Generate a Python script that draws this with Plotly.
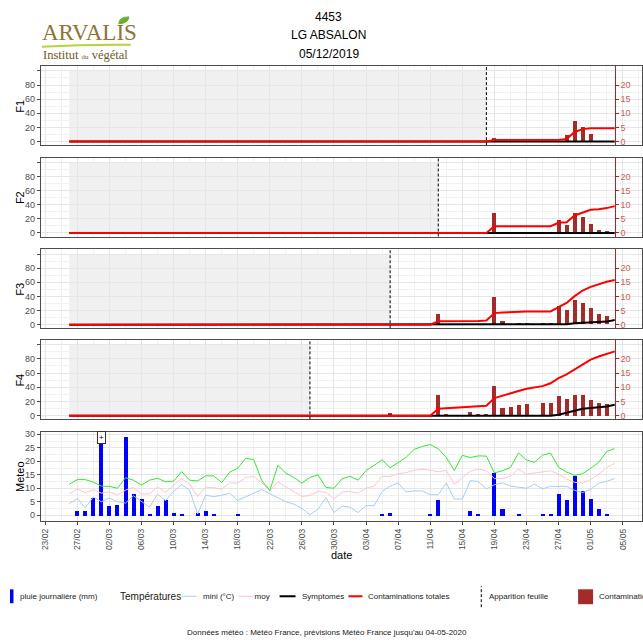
import pandas as pd
import plotly.graph_objects as go

W, H = 643, 641

# ---------------------------------------------------------------- data
dates = pd.date_range("2020-02-26", "2020-05-04", freq="D")

# daily rain (mm)
rain = ([0.0, 1.6, 1.6, 6.4] +
        [38.0, 3.4, 3.9, 29.0, 8.2, 6.0, 0.7, 3.7, 5.7, 1.0,
         0.7, 0.0, 1.0, 1.6, 0.7, 0.0, 0.0, 0.4, 0.0, 0.0,
         0.0, 0.0, 0.0, 0.0, 0.0, 0.0, 0.0, 0.0, 0.0, 0.0, 0.0] +
        [0.0, 0.0, 0.0, 0.0, 0.6, 1.0, 0.0, 0.0, 0.0, 0.0,
         0.4, 5.9, 0.0, 0.0, 0.0, 1.6, 0.4, 0.0, 15.8, 2.4,
         0.0, 0.4, 0.0, 0.0, 0.4, 0.4, 7.9, 5.7, 14.8, 9.2] +
        [6.0, 2.4, 0.7, 0.0])

# temperatures (deg C)
t_max = ([11.5, 13.2, 13.2, 12.3] +
         [10.8, 10.7, 10.0, 13.9, 13.0, 11.2, 13.0, 13.7, 12.4, 12.6,
          16.2, 13.0, 12.7, 14.6, 14.6, 12.1, 16.0, 17.4, 21.1, 20.6,
          12.8, 9.2, 18.5, 15.6, 14.0, 11.9, 14.0, 15.0, 10.3, 10.0, 13.5] +
         [14.4, 13.0, 16.6, 18.5, 20.5, 17.6, 19.5, 21.5, 24.4, 25.5,
          26.2, 24.6, 21.4, 16.6, 22.2, 21.4, 22.0, 21.9, 15.7, 16.5,
          17.7, 23.1, 20.5, 19.6, 22.3, 23.0, 17.8, 16.0, 14.8, 15.4] +
         [17.4, 19.6, 23.6, 24.7])
t_moy = ([7.9, 9.7, 8.3, 9.4] +
         [8.2, 8.7, 7.5, 9.3, 10.3, 7.9, 7.9, 10.5, 8.5, 10.9,
          13.6, 11.4, 7.0, 10.4, 10.2, 9.7, 12.0, 11.9, 14.0, 14.4,
          12.0, 9.0, 12.4, 10.5, 8.7, 7.0, 7.3, 8.8, 8.5, 6.0, 8.6] +
         [8.8, 8.2, 10.0, 10.8, 14.4, 14.4, 15.4, 15.8, 16.7, 17.0,
          16.7, 16.1, 16.6, 11.5, 14.0, 16.3, 17.1, 16.5, 13.6, 13.6,
          14.4, 17.1, 15.2, 15.6, 15.9, 16.5, 15.2, 13.4, 12.2, 11.9] +
         [13.2, 15.2, 17.7, 19.3])
t_min = ([4.3, 6.2, 2.7, 6.8] +
         [5.0, 6.4, 5.0, 4.5, 7.2, 5.0, 3.0, 7.8, 5.4, 8.8,
          11.4, 9.3, 0.5, 7.4, 6.9, 7.4, 8.2, 5.5, 6.9, 8.3,
          9.5, 8.0, 6.5, 5.0, 4.1, 2.5, 0.2, 2.2, 6.5, 1.0, 3.4] +
         [3.0, 1.0, 3.6, 3.5, 8.8, 10.8, 12.0, 8.6, 9.0, 9.0,
          7.6, 7.6, 12.0, 6.0, 6.0, 12.8, 12.5, 9.8, 11.3, 12.0,
          10.8, 10.4, 10.0, 11.5, 9.8, 10.7, 10.7, 10.7, 9.2, 8.4] +
         [9.6, 11.9, 12.6, 13.6])

MARCH_ZERO = [0.0, 0.0, 0.0, 0.0, 0.0, 0.0, 0.0, 0.0, 0.0, 0.0,
              0.0, 0.0, 0.0, 0.0, 0.0, 0.0, 0.0, 0.0, 0.0, 0.0,
              0.0, 0.0, 0.0, 0.0, 0.0, 0.0, 0.0, 0.0, 0.0, 0.0, 0.0]
FEB_ZERO = [0.0, 0.0, 0.0, 0.0]

leaves = ["F1", "F2", "F3", "F4"]
leaf_appearance = ["2020-04-18", "2020-04-12", "2020-04-06", "2020-03-27"]

# cumulated contaminations (right-hand scale)
contam_tot = {
    "F1": FEB_ZERO + MARCH_ZERO +
          [0.0, 0.0, 0.0, 0.0, 0.0, 0.0, 0.0, 0.0, 0.0, 0.0,
           0.0, 0.0, 0.0, 0.0, 0.0, 0.0, 0.0, 0.0, 0.6, 0.6,
           0.6, 0.6, 0.6, 0.6, 0.6, 0.6, 0.6, 0.9, 3.4, 4.4] +
          [4.7, 4.7, 4.7, 4.7],
    "F2": FEB_ZERO + MARCH_ZERO +
          [0.0, 0.0, 0.0, 0.0, 0.0, 0.0, 0.0, 0.0, 0.0, 0.0,
           0.0, 0.0, 0.0, 0.0, 0.0, 0.0, 0.0, 0.0, 2.4, 2.4,
           2.4, 2.4, 2.4, 2.4, 2.4, 2.4, 3.6, 3.8, 6.2, 7.1] +
          [8.2, 8.4, 8.8, 9.5],
    "F3": FEB_ZERO + MARCH_ZERO +
          [0.0, 0.0, 0.0, 0.0, 0.0, 0.0, 0.0, 0.0, 0.0, 0.0,
           0.0, 1.2, 1.2, 1.2, 1.2, 1.3, 1.3, 1.5, 4.1, 4.3,
           4.5, 4.7, 4.7, 4.7, 4.7, 4.7, 6.2, 7.7, 10.1, 12.1] +
          [13.4, 14.4, 15.2, 15.8],
    "F4": FEB_ZERO + MARCH_ZERO +
          [0.0, 0.0, 0.0, 0.0, 0.0, 0.0, 0.0, 0.0, 0.0, 0.0,
           0.0, 2.5, 2.7, 2.9, 3.0, 3.2, 3.3, 3.5, 6.2, 7.1,
           7.9, 8.7, 9.5, 9.9, 10.4, 11.4, 13.2, 14.5, 16.2, 18.2] +
          [19.7, 20.8, 21.8, 22.6],
}

# symptoms (right-hand scale)
symptomes = {
    "F1": FEB_ZERO + MARCH_ZERO +
          [0.0, 0.0, 0.0, 0.0, 0.0, 0.0, 0.0, 0.0, 0.0, 0.0,
           0.0, 0.0, 0.0, 0.0, 0.0, 0.0, 0.0, 0.0, 0.0, 0.0,
           0.0, 0.0, 0.0, 0.0, 0.0, 0.0, 0.0, 0.0, 0.0, 0.0] +
          [0.0, 0.0, 0.0, 0.0],
    "F2": FEB_ZERO + MARCH_ZERO +
          [0.0, 0.0, 0.0, 0.0, 0.0, 0.0, 0.0, 0.0, 0.0, 0.0,
           0.0, 0.0, 0.0, 0.0, 0.0, 0.0, 0.0, 0.0, 0.0, 0.0,
           0.0, 0.0, 0.0, 0.0, 0.0, 0.0, 0.0, 0.0, 0.0, 0.0] +
          [0.0, 0.0, 0.0, 0.0],
    "F3": FEB_ZERO + MARCH_ZERO +
          [0.0, 0.0, 0.0, 0.0, 0.0, 0.0, 0.0, 0.0, 0.0, 0.0,
           0.0, 0.0, 0.0, 0.0, 0.0, 0.0, 0.0, 0.0, 0.0, 0.0,
           0.0, 0.0, 0.0, 0.0, 0.0, 0.0, 0.0, 0.2, 0.5, 0.7] +
          [0.8, 1.1, 1.1, 1.7],
    "F4": FEB_ZERO + MARCH_ZERO +
          [0.0, 0.0, 0.0, 0.0, 0.0, 0.0, 0.0, 0.0, 0.0, 0.0,
           0.0, 0.0, 0.0, 0.0, 0.0, 0.0, 0.0, 0.0, 0.0, 0.0,
           0.0, 0.0, 0.0, 0.0, 0.0, 0.0, 0.4, 1.2, 1.8, 2.5] +
          [2.7, 3.1, 3.3, 3.9],
}

# daily contaminations (right-hand scale)
contam_dates = {
    "F1": ["2020-04-19", "2020-04-28", "2020-04-29", "2020-04-30", "2020-05-01"],
    "F2": ["2020-04-19", "2020-04-27", "2020-04-28", "2020-04-29", "2020-04-30",
           "2020-05-01", "2020-05-02", "2020-05-03"],
    "F3": ["2020-04-12", "2020-04-19", "2020-04-20", "2020-04-22", "2020-04-23",
           "2020-04-25", "2020-04-26", "2020-04-27", "2020-04-28", "2020-04-29",
           "2020-04-30", "2020-05-01", "2020-05-02", "2020-05-03"],
    "F4": ["2020-04-06", "2020-04-12", "2020-04-13", "2020-04-16", "2020-04-17",
           "2020-04-18", "2020-04-19", "2020-04-20", "2020-04-21", "2020-04-22",
           "2020-04-23", "2020-04-25", "2020-04-26", "2020-04-27", "2020-04-28",
           "2020-04-29", "2020-04-30", "2020-05-01", "2020-05-02", "2020-05-03"],
}
contam_vals = {
    "F1": [1.0, 2.1, 7.0, 5.1, 2.5],
    "F2": [7.3, 4.6, 2.8, 7.1, 5.8, 3.2, 1.2, 0.7],
    "F3": [3.8, 9.8, 1.1, 0.6, 0.6, 0.6, 0.6, 6.5, 5.0, 8.6, 7.7, 5.6, 3.8, 3.1],
    "F4": [0.9, 7.4, 0.7, 1.5, 0.7, 0.7, 10.4, 2.7, 3.1, 3.9, 4.1, 4.5, 4.5,
           7.1, 5.9, 7.4, 7.3, 5.6, 4.5, 4.2],
}

left_ticks = [0, 20, 40, 60, 80, 100]
left_ticktext = ["0", "20", "40", "60", "80", ""]
right_ticks = [0, 5, 10, 15, 20]
meteo_ticks = [0, 5, 10, 15, 20, 25, 30]

# ---------------------------------------------------------------- geometry
DAY = pd.Timedelta(days=1)
DAY_MS = 86400000
FONT = "Liberation Sans"
X_LEFT, X_RIGHT = 40.0, 642.0
x_start = pd.Timestamp("2020-02-23") - 0.535 * DAY
x_end = pd.Timestamp("2020-02-23") + 74.4 * DAY
leaf_rows = [(64.7, 144.0), (156.7, 236.0), (249.0, 328.3), (340.0, 420.0)]
meteo_row = (432.3, 522.7)
LEFT_RANGE = [-5.0, 106.5]
SCALE = 4.0  # left scale / right scale


def px(x):
    return x / W


def py(y):
    return 1 - y / H


def ydom(row):
    return [py(row[1]), py(row[0])]


def sfx(i):
    return "" if i == 1 else str(i)


x_dom = [px(X_LEFT), px(X_RIGHT)]
last = dates[-1]
sec_pos = x_dom[0] + (last - x_start) / (x_end - x_start) * (x_dom[1] - x_dom[0])

GRID = "#E6E6E6"
MINOR = "#F1F1F1"
BORDER = "#4D4D4D"
TICKTXT = "#4D4D4D"
LEG_TXT = "#1A1A1A"

fig = go.Figure()
layout = dict(width=W, height=H, margin=dict(l=0, r=0, t=0, b=0), autosize=False,
              paper_bgcolor="white", plot_bgcolor="rgba(0,0,0,0)", showlegend=False,
              font=dict(family=FONT, color="#000000"), bargap=0)
shapes, annotations = [], []


def note(x, y, text, size=8, xanchor="left", color=LEG_TXT, **kw):
    d = dict(xref="paper", yref="paper", x=px(x), y=py(y), text=text, showarrow=False,
             xanchor=xanchor, yanchor="middle", font=dict(size=size, color=color))
    d.update(kw)
    annotations.append(d)


def x_axis(anchor, labels):
    ax = dict(type="date", domain=x_dom, range=[x_start, x_end], anchor=anchor,
              tick0="2020-02-23", dtick=4 * DAY_MS, showgrid=True, gridcolor=GRID, gridwidth=1,
              minor=dict(tick0="2020-02-23", dtick=2 * DAY_MS, showgrid=True, gridcolor=MINOR, gridwidth=1),
              showline=True, mirror=True, linecolor=BORDER, linewidth=1, zeroline=False)
    if labels:
        ax.update(showticklabels=True, ticks="outside", ticklen=3, tickcolor=BORDER,
                  tickformat="%d/%m", tickangle=-90, tickfont=dict(size=8.5, color=TICKTXT))
    else:
        ax.update(showticklabels=False, ticks="")
    return ax


for i, (leaf, row) in enumerate(zip(leaves, leaf_rows), start=1):
    xa, ya, ys = f"x{sfx(i)}", f"y{sfx(i)}", f"y{i + 5}"
    layout[f"xaxis{sfx(i)}"] = x_axis(ya, False)
    layout[f"yaxis{sfx(i)}"] = dict(domain=ydom(row), range=LEFT_RANGE, anchor=xa,
                                    tickvals=left_ticks, ticktext=left_ticktext,
                                    ticks="outside", ticklen=3, tickcolor=BORDER,
                                    tickfont=dict(size=9, color=TICKTXT),
                                    showgrid=True, gridcolor=GRID, gridwidth=1,
                                    minor=dict(tick0=10, dtick=20, showgrid=True, gridcolor=MINOR, gridwidth=1),
                                    showline=True, mirror=True, linecolor=BORDER, linewidth=1,
                                    zeroline=False)
    layout[f"yaxis{i + 5}"] = dict(overlaying=ya, anchor="free", position=sec_pos, side="right",
                                   range=[v / SCALE for v in LEFT_RANGE], tickvals=right_ticks,
                                   showgrid=False, zeroline=False, showline=True,
                                   linecolor="#B22222", linewidth=1, ticks="outside", ticklen=3,
                                   tickcolor="#B22222", tickfont=dict(size=9, color="#CD5C5C"))

    # period before leaf appearance
    shapes.append(dict(type="rect", xref=xa, yref=ya, x0=dates[0], x1=leaf_appearance[i - 1],
                       y0=left_ticks[0], y1=left_ticks[-1], fillcolor="#F0F0F0",
                       line=dict(width=0), layer="below"))
    shapes.append(dict(type="line", xref=xa, yref=f"{ya} domain", x0=leaf_appearance[i - 1],
                       x1=leaf_appearance[i - 1], y0=0, y1=1,
                       line=dict(color="#000000", width=1, dash="3px,2px")))

    fig.add_trace(go.Bar(x=contam_dates[leaf], y=contam_vals[leaf], xaxis=xa, yaxis=ys,
                         width=0.5 * DAY_MS, marker=dict(color="#A52A2A", line=dict(width=0))))
    fig.add_trace(go.Scatter(x=dates, y=symptomes[leaf], xaxis=xa, yaxis=ys, mode="lines",
                             line=dict(color="#000000", width=2)))
    fig.add_trace(go.Scatter(x=dates, y=contam_tot[leaf], xaxis=xa, yaxis=ys, mode="lines",
                             line=dict(color="#FF0000", width=2)))

    note(19, (row[0] + row[1]) / 2, leaf, size=11, xanchor="center", color="#000000",
         textangle=-90)

# meteo panel
layout["xaxis5"] = x_axis("y5", True)
layout["yaxis5"] = dict(domain=ydom(meteo_row), range=[-2.3, 31.0], anchor="x5",
                        tickvals=meteo_ticks, ticks="outside", ticklen=3, tickcolor=BORDER,
                        tickfont=dict(size=9, color=TICKTXT),
                        showgrid=True, gridcolor=GRID, gridwidth=1,
                        minor=dict(tick0=2.5, dtick=5, showgrid=True, gridcolor=MINOR, gridwidth=1),
                        showline=True, mirror=True, linecolor=BORDER, linewidth=1, zeroline=False)

fig.add_trace(go.Bar(x=dates, y=rain, xaxis="x5", yaxis="y5", width=0.5 * DAY_MS,
                     marker=dict(color="#0000FF", line=dict(width=0))))
fig.add_trace(go.Scatter(x=dates, y=t_min, xaxis="x5", yaxis="y5", mode="lines",
                         line=dict(color="#A9CCF5", width=1)))
fig.add_trace(go.Scatter(x=dates, y=t_moy, xaxis="x5", yaxis="y5", mode="lines",
                         line=dict(color="#FFC4CC", width=1)))
fig.add_trace(go.Scatter(x=dates, y=t_max, xaxis="x5", yaxis="y5", mode="lines",
                         line=dict(color="#33E633", width=1)))

# overflow marker for the rain bar going past the top of the panel
annotations.append(dict(xref="x5", yref="y5", x="2020-03-01", y=28.7, text="+", showarrow=False,
                        font=dict(size=8, color="#000000"), bgcolor="white",
                        bordercolor="#333333", borderwidth=1, borderpad=1))

note(19, 477, "Meteo", size=11, xanchor="center", color="#000000", textangle=-90)
note(341, 556.5, "date", size=11, xanchor="center", color="#000000")

# title
for txt, yy in [("4453", 14.7), ("LG ABSALON", 33.3), ("05/12/2019", 52)]:
    note(328.5, yy, txt, size=12, xanchor="center", color="#000000")

# logo
note(39, 31, "ARVALIS", size=23, color="#8E7436")
annotations[-1]["font"]["family"] = "Liberation Serif"
note(40, 53.5, "Institut <span style='font-size:7px'>du</span> végétal", size=12.5, color="#6E5A2A")
annotations[-1]["font"]["family"] = "Liberation Serif"

shapes.append(dict(type="path", xref="paper", yref="paper",
                   path="M {:.5f},{:.5f} Q {:.5f},{:.5f} {:.5f},{:.5f}".format(
                       px(41), py(45), px(85), py(42.5), px(130), py(43)),
                   line=dict(color="#B6D43A", width=2)))
shapes.append(dict(type="path", xref="paper", yref="paper",
                   path="M {:.5f},{:.5f} Q {:.5f},{:.5f} {:.5f},{:.5f} Q {:.5f},{:.5f} {:.5f},{:.5f} Z".format(
                       px(118), py(22), px(118), py(15), px(128), py(15),
                       px(128), py(21), px(118), py(22)),
                   fillcolor="#6DAE2C", line=dict(color="#6DAE2C", width=1)))

# legend
LY = 598
# full-page pixel frame, used for the legend label that sits under the symptoms key
layout["xaxis6"] = dict(domain=[0, 1], range=[0, W], visible=False, anchor="y10", fixedrange=True)
layout["yaxis10"] = dict(domain=[0, 1], range=[H, 0], visible=False, anchor="x6", fixedrange=True)
fig.add_trace(go.Scatter(x=[254], y=[LY + 0.5], xaxis="x6", yaxis="y10", mode="text",
                         text=["moy (°C)"], textposition="middle right", cliponaxis=False,
                         textfont=dict(size=8, color=LEG_TXT, family=FONT), hoverinfo="skip"))

shapes.append(dict(type="rect", xref="paper", yref="paper", x0=px(9), x1=px(12.5),
                   y0=py(605), y1=py(591), fillcolor="#0000FF", line=dict(width=0)))
note(17, LY, "pluie journalière (mm)")
note(117, LY, "Températures", size=10)
note(200, LY, "mini (°C)")
shapes.append(dict(type="line", xref="paper", yref="paper", x0=px(181), x1=px(196),
                   y0=py(LY), y1=py(LY), line=dict(color="#A9CCF5", width=1)))
shapes.append(dict(type="line", xref="paper", yref="paper", x0=px(238), x1=px(253),
                   y0=py(LY), y1=py(LY), line=dict(color="#FFC4CC", width=1)))
shapes.append(dict(type="rect", xref="paper", yref="paper", x0=px(271), x1=px(298),
                   y0=py(610), y1=py(586), fillcolor="white", line=dict(width=0), layer="above"))
shapes.append(dict(type="line", xref="paper", yref="paper", x0=px(279), x1=px(295),
                   y0=py(LY), y1=py(LY), line=dict(color="#000000", width=2), layer="above"))
shapes.append(dict(type="line", xref="paper", yref="paper", x0=px(348), x1=px(362),
                   y0=py(LY), y1=py(LY), line=dict(color="#FF0000", width=2)))
shapes.append(dict(type="line", xref="paper", yref="paper", x0=px(481), x1=px(481),
                   y0=py(609), y1=py(588), line=dict(color="#000000", width=1, dash="3px,2px")))
shapes.append(dict(type="rect", xref="paper", yref="paper", x0=px(578), x1=px(593),
                   y0=py(606), y1=py(591), fillcolor="#A52A2A", line=dict(width=0)))
note(299, LY, "Symptomes")
note(366, LY, "Contaminations totales")
note(487, LY, "Apparition feuille")
note(597, LY, "Contaminations")

note(327, 634, "Données météo : Météo France, prévisions Météo France jusqu'au 04-05-2020",
     xanchor="center")

layout["shapes"] = shapes
layout["annotations"] = annotations
fig.update_layout(**layout)
fig.write_html("out.html")
